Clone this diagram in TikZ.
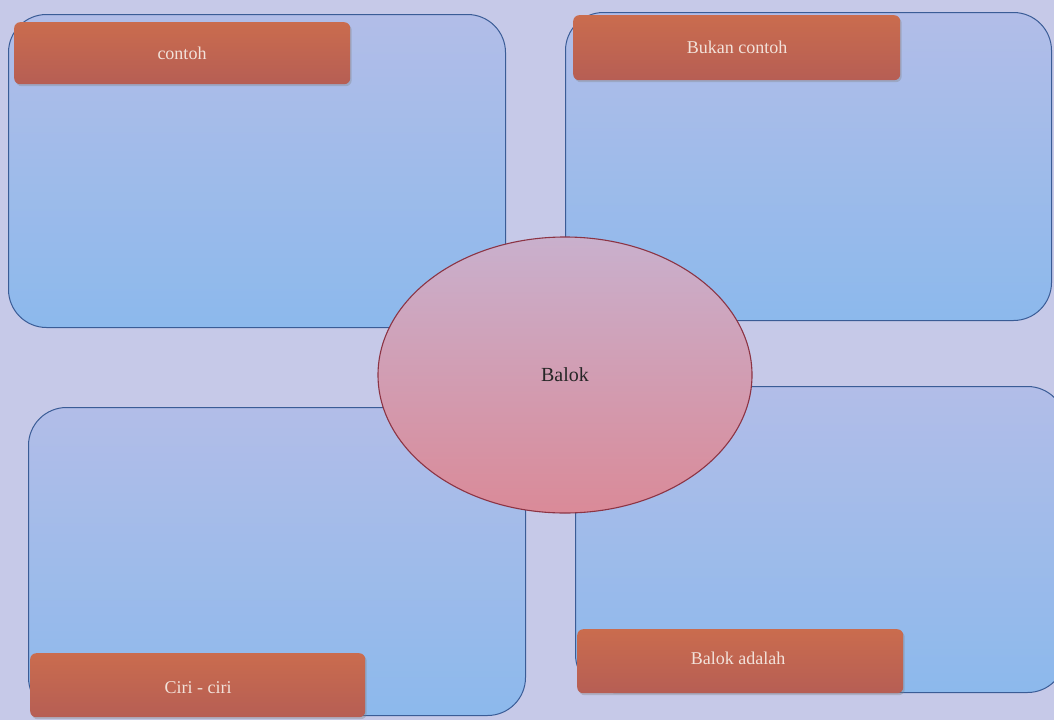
\documentclass[tikz,border=0pt]{standalone}
\usepackage{fontspec}
\setmainfont{Liberation Serif}
\usetikzlibrary{shapes.geometric,shadows}
\definecolor{bgcol}{HTML}{C6C9E8}
\definecolor{boxtop}{HTML}{B2BDE8}
\definecolor{boxbot}{HTML}{8CB9EC}
\definecolor{boxline}{HTML}{3A5C96}
\definecolor{labtop}{HTML}{CA6C4E}
\definecolor{labbot}{HTML}{B65E54}
\definecolor{labtext}{HTML}{F2E2DA}
\definecolor{elltop}{HTML}{C9B0CD}
\definecolor{ellbot}{HTML}{DA8A98}
\definecolor{ellline}{HTML}{8C3444}
\tikzset{
  quadbox/.style={draw=boxline, line width=1pt, rounded corners=38pt,
    top color=boxtop, bottom color=boxbot},
  labelbox/.style={rounded corners=6pt, top color=labtop, bottom color=labbot,
    drop shadow={opacity=0.35, shadow xshift=1.5pt, shadow yshift=-2pt}},
  labeltext/.style={text=labtext, font=\fontsize{18}{22}\selectfont},
  centre/.style={ellipse, draw=ellline, line width=1.1pt, top color=elltop,
    bottom color=ellbot, font=\fontsize{20}{24}\selectfont, text=black!85}
}
\begin{document}
\begin{tikzpicture}[x=1pt,y=-1pt]
\fill[bgcol] (0,0) rectangle (1054,720);
\useasboundingbox (0,0) rectangle (1054,720);
% quadrant boxes
\node[quadbox, minimum width=497pt, minimum height=313pt, anchor=north west, inner sep=0pt] (tl) at (8,14) {};
\node[quadbox, minimum width=486pt, minimum height=308pt, anchor=north west, inner sep=0pt] (tr) at (565,12) {};
\node[quadbox, minimum width=497pt, minimum height=308pt, anchor=north west, inner sep=0pt] (bl) at (28,407) {};
\node[quadbox, minimum width=490pt, minimum height=306pt, anchor=north west, inner sep=0pt] (br) at (575,386) {};
% centre ellipse
\node[centre, minimum width=374pt, minimum height=276pt, inner sep=0pt] (c) at (565,375) {Balok};
% labels
\node[labelbox, minimum width=336pt, minimum height=62pt, anchor=north west, inner sep=0pt] (l1) at (14,22) {};
\node[labeltext] (t1) at (182,53) {contoh};
\node[labelbox, minimum width=327pt, minimum height=65pt, anchor=north west, inner sep=0pt] (l2) at (573,15) {};
\node[labeltext] (t2) at (737,47) {Bukan contoh};
\node[labelbox, minimum width=335pt, minimum height=64pt, anchor=north west, inner sep=0pt] (l3) at (30,653) {};
\node[labeltext] (t3) at (198,688) {Ciri - ciri};
\node[labelbox, minimum width=326pt, minimum height=64pt, anchor=north west, inner sep=0pt] (l4) at (577,629) {};
\node[labeltext] (t4) at (738,658) {Balok adalah};
\end{tikzpicture}
\end{document}
